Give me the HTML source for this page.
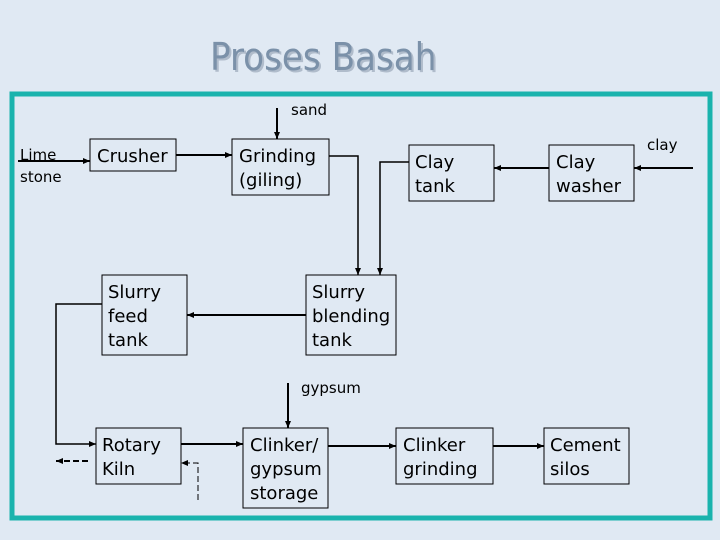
<!DOCTYPE html>
<html><head><style>
body{margin:0;width:720px;height:540px;background:#e0e9f3;overflow:hidden;font-family:"DejaVu Sans","Liberation Sans",sans-serif;}
</style></head><body>
<svg width="720" height="540" xmlns="http://www.w3.org/2000/svg" style="position:absolute;left:0;top:0">
<defs><marker id="a" markerWidth="8" markerHeight="8" refX="7" refY="4" orient="auto" markerUnits="userSpaceOnUse"><path d="M0,1 L7,4 L0,7 z" fill="#000"/></marker></defs>
<text x="210" y="70" font-size="38" fill="#b0bccb" font-family="DejaVu Sans Condensed, DejaVu Sans, sans-serif" transform="translate(2,2)">Proses Basah</text>
<text x="210" y="70" font-size="38" fill="#7b91a9" font-family="DejaVu Sans Condensed, DejaVu Sans, sans-serif">Proses Basah</text>
<rect x="12" y="94" width="698" height="424" fill="none" stroke="#1ab3ad" stroke-width="5"/>
<g fill="none" stroke="#000" stroke-width="1">
<rect x="90" y="139" width="86" height="32"/>
<rect x="232" y="139" width="97" height="56"/>
<rect x="409" y="145" width="85" height="56"/>
<rect x="549" y="145" width="85" height="56"/>
<rect x="102" y="275" width="85" height="80"/>
<rect x="306" y="275" width="90" height="80"/>
<rect x="96" y="428" width="85" height="56"/>
<rect x="243" y="428" width="85" height="80"/>
<rect x="396" y="428" width="97" height="56"/>
<rect x="544" y="428" width="85" height="56"/>
</g>
<g fill="none" stroke="#000" stroke-width="2" marker-end="url(#a)">
<path d="M18,161 H90"/>
<path d="M176,155 H232"/>
<path d="M277,108 V139"/>
<path d="M329,156 H358 V275" stroke-width="1.5"/>
<path d="M409,162 H380 V275" stroke-width="1.5"/>
<path d="M549,168 H494"/>
<path d="M693,168 H634"/>
<path d="M306,315 H187"/>
<path d="M102,304 H56 V444 H96" stroke-width="1.5"/>
<path d="M288,383 V428"/>
<path d="M181,444 H243"/>
<path d="M328,446 H396"/>
<path d="M493,446 H544"/>
<path d="M88,461 H56" stroke-dasharray="6,3"/>
<path d="M198,500 V463 H181" stroke-width="1" stroke-dasharray="6,3"/>
</g>
<g font-size="18" fill="#000">
<text x="97" y="162">Crusher</text>
<text x="239" y="162">Grinding</text><text x="239" y="186">(giling)</text>
<text x="415" y="168">Clay</text><text x="415" y="192">tank</text>
<text x="556" y="168">Clay</text><text x="556" y="192">washer</text>
<text x="108" y="298">Slurry</text><text x="108" y="322">feed</text><text x="108" y="346">tank</text>
<text x="312" y="298">Slurry</text><text x="312" y="322">blending</text><text x="312" y="346">tank</text>
<text x="102" y="451">Rotary</text><text x="102" y="475">Kiln</text>
<text x="250" y="451">Clinker/</text><text x="250" y="475">gypsum</text><text x="250" y="499">storage</text>
<text x="403" y="451">Clinker</text><text x="403" y="475">grinding</text>
<text x="550" y="451">Cement</text><text x="550" y="475">silos</text>
</g>
<g font-size="15" fill="#000">
<text x="20" y="160">Lime</text><text x="20" y="182">stone</text>
<text x="291" y="115">sand</text>
<text x="647" y="150">clay</text>
<text x="301" y="393">gypsum</text>
</g>
</svg>
</body></html>
